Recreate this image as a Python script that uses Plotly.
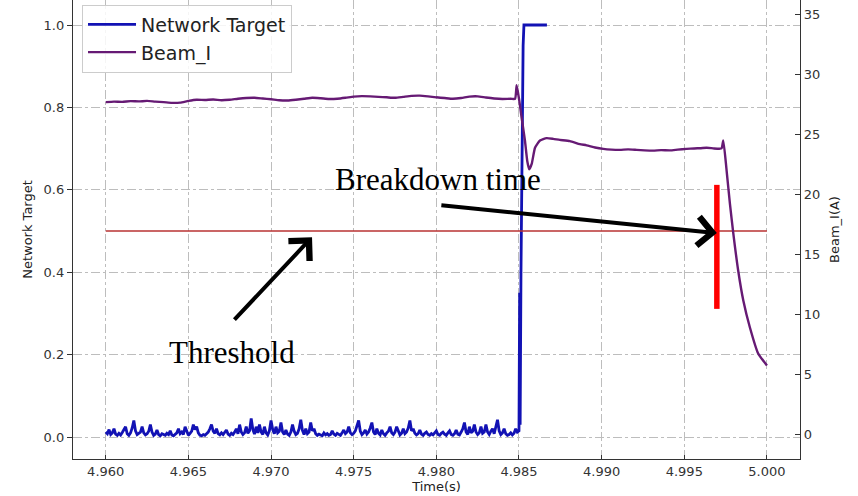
import plotly.graph_objects as go

# ---------------- data ----------------
# Network target output, sampled every 0.1 ms from 4.960 s to 4.985 s
target_start = 4.960
target_step = 0.0001
target_noise = [
    0.012, 0.008, 0.018, 0.006, 0.010, 0.020, 0.007, 0.004, 0.009, 0.005,
    0.011, 0.020, 0.025, 0.008, 0.004, 0.010, 0.022, 0.040, 0.015, 0.006,
    0.009, 0.012, 0.025, 0.010, 0.005, 0.008, 0.014, 0.030, 0.012, 0.004,
    0.007, 0.017, 0.006, 0.003, 0.008, 0.005, 0.004, 0.009, 0.006, 0.015,
    0.005, 0.003, 0.007, 0.010, 0.020, 0.008, 0.012, 0.006, 0.025, 0.012,
    0.004, 0.009, 0.014, 0.030, 0.018, 0.025, 0.010, 0.004, 0.003, 0.006,
    0.004, 0.008, 0.012, 0.020, 0.030, 0.014, 0.009, 0.020, 0.008, 0.005,
    0.010, 0.006, 0.012, 0.017, 0.007, 0.004, 0.009, 0.006, 0.012, 0.020,
    0.008, 0.030, 0.012, 0.006, 0.010, 0.025, 0.009, 0.015, 0.045, 0.018,
    0.007, 0.025, 0.010, 0.030, 0.012, 0.006, 0.025, 0.010, 0.005, 0.015,
    0.040, 0.018, 0.008, 0.025, 0.010, 0.014, 0.035, 0.012, 0.006, 0.017,
    0.007, 0.004, 0.012, 0.030, 0.014, 0.006, 0.009, 0.020, 0.042, 0.016,
    0.006, 0.020, 0.008, 0.012, 0.035, 0.015, 0.020, 0.008, 0.004, 0.007,
    0.005, 0.003, 0.010, 0.005, 0.008, 0.004, 0.006, 0.015, 0.007, 0.004,
    0.009, 0.006, 0.004, 0.010, 0.017, 0.008, 0.012, 0.025, 0.010, 0.006,
    0.009, 0.015, 0.028, 0.040, 0.014, 0.006, 0.010, 0.017, 0.007, 0.012,
    0.022, 0.035, 0.012, 0.006, 0.020, 0.009, 0.005, 0.017, 0.008, 0.004,
    0.010, 0.014, 0.025, 0.010, 0.006, 0.012, 0.025, 0.012, 0.005, 0.009,
    0.020, 0.008, 0.012, 0.022, 0.040, 0.015, 0.020, 0.009, 0.005, 0.008,
    0.017, 0.007, 0.004, 0.009, 0.012, 0.006, 0.004, 0.008, 0.005, 0.010,
    0.015, 0.006, 0.004, 0.009, 0.012, 0.007, 0.004, 0.010, 0.015, 0.006,
    0.004, 0.008, 0.017, 0.007, 0.005, 0.012, 0.020, 0.035, 0.012, 0.006,
    0.025, 0.010, 0.014, 0.030, 0.012, 0.006, 0.010, 0.025, 0.009, 0.012,
    0.030, 0.012, 0.006, 0.014, 0.020, 0.008, 0.022, 0.042, 0.015, 0.006,
    0.010, 0.020, 0.008, 0.004, 0.006, 0.010, 0.005, 0.009, 0.020, 0.012,
    0.015,
]
# Transition of the network target after 4.985 s
jump_t = [4.98504, 4.98507, 4.98512, 4.98525, 4.98530, 4.98669]
jump_v = [0.35, 0.03, 0.40, 0.95, 1.00, 1.00]

# Beam current (A)
beam_t = [
    4.9600, 4.9605, 4.9610, 4.9615, 4.9620, 4.9625, 4.9630, 4.9635, 4.9640, 4.9645,
    4.9650, 4.9655, 4.9660, 4.9665, 4.9670, 4.9675, 4.9680, 4.9685, 4.9690, 4.9695,
    4.9700, 4.9705, 4.9710, 4.9715, 4.9720, 4.9725, 4.9730, 4.9735, 4.9740, 4.9745,
    4.9750, 4.9755, 4.9760, 4.9765, 4.9770, 4.9775, 4.9780, 4.9785, 4.9790, 4.9795,
    4.9800, 4.9805, 4.9810, 4.9815, 4.9820, 4.9825, 4.9830, 4.9835, 4.9840, 4.9845,
    4.98476, 4.98486, 4.98502, 4.98516, 4.98536, 4.98550, 4.98562, 4.98577, 4.98597,
    4.98627, 4.98667, 4.98707, 4.98747, 4.98808, 4.98868, 4.98909, 4.98960, 4.99010,
    4.99060, 4.99110, 4.99160, 4.99212, 4.99260, 4.99312, 4.99360, 4.99413, 4.99460,
    4.99514, 4.99560, 4.99600, 4.99635, 4.99680, 4.99716, 4.99726, 4.99736, 4.99756,
    4.99776, 4.99796, 4.99826, 4.99857, 4.99897, 4.99947, 5.00000,
]
beam_i = [
    27.70, 27.74, 27.72, 27.78, 27.76, 27.80, 27.74, 27.70, 27.64, 27.66,
    27.80, 27.90, 27.88, 27.92, 27.86, 27.90, 27.98, 28.04, 28.06, 28.00,
    27.94, 27.86, 27.84, 27.90, 27.98, 28.06, 28.02, 27.96, 27.98, 28.06,
    28.16, 28.20, 28.18, 28.14, 28.10, 28.06, 28.14, 28.22, 28.24, 28.18,
    28.10, 28.04, 27.98, 28.04, 28.16, 28.18, 28.08, 28.00, 27.96, 27.98,
    27.97, 29.10, 27.80, 26.40, 24.50, 22.80, 22.10, 22.55, 23.90,
    24.50, 24.70, 24.64, 24.55, 24.45, 24.20, 24.10, 23.92, 23.80,
    23.74, 23.72, 23.76, 23.72, 23.68, 23.66, 23.70, 23.68, 23.74,
    23.80, 23.84, 23.86, 23.90, 23.84, 23.82, 23.86, 24.50, 22.00,
    19.25, 16.83, 13.67, 11.17, 8.92, 6.75, 5.75,
]

threshold = 0.5
threshold_span = [4.960, 5.000]
breakdown_t = 4.99697
breakdown_bar = [0.311, 0.612]

x_ticks = [4.960, 4.965, 4.970, 4.975, 4.980, 4.985, 4.990, 4.995, 5.000]
left_ticks = [0.0, 0.2, 0.4, 0.6, 0.8, 1.0]
right_ticks = [0, 5, 10, 15, 20, 25, 30, 35]

# ---------------- figure ----------------
target_t = [target_start + k * target_step for k in range(len(target_noise))] + jump_t
target_v = target_noise + jump_v

TARGET_COLOR = "#1212b4"
BEAM_COLOR = "#661a74"
FONT = "DejaVu Sans"

fig = go.Figure()
fig.add_trace(go.Scatter(
    x=target_t, y=target_v, mode="lines", name="Network Target",
    line=dict(color=TARGET_COLOR, width=2.8), yaxis="y",
))
fig.add_trace(go.Scatter(
    x=beam_t, y=beam_i, mode="lines", name="Beam_I",
    line=dict(color=BEAM_COLOR, width=2.4, shape="spline", smoothing=0.5), yaxis="y2",
))
fig.add_trace(go.Scatter(
    x=threshold_span, y=[threshold, threshold], mode="lines", showlegend=False,
    line=dict(color="#b83232", width=1.6), yaxis="y",
))
fig.add_trace(go.Scatter(
    x=[breakdown_t, breakdown_t], y=breakdown_bar, mode="lines", showlegend=False,
    line=dict(color="#ff0000", width=5.5), yaxis="y",
))

grid = dict(showgrid=True, gridcolor="#bdbdbd", gridwidth=1, griddash="dashdot")
fig.update_layout(
    width=858, height=496,
    margin=dict(l=73, r=58, t=0, b=37),
    paper_bgcolor="white", plot_bgcolor="white",
    font=dict(family=FONT, size=13, color="#333333"),
    xaxis=dict(
        range=[4.95802, 5.00200], tickvals=x_ticks,
        ticktext=[f"{v:.3f}" for v in x_ticks],
        showline=True, linecolor="#333333", linewidth=1.3, mirror=False,
        ticks="inside", ticklen=4, tickcolor="#333333",
        title=dict(text="Time(s)", standoff=1, font=dict(size=13, color="#222222")),
        zeroline=False, **grid,
    ),
    yaxis=dict(
        range=[-0.0534, 1.0607], tickvals=left_ticks,
        ticktext=[f"{v:.1f}" for v in left_ticks],
        showline=True, linecolor="#333333", linewidth=1.3,
        ticks="outside", ticklen=5, tickcolor="#333333",
        title=dict(text="Network Target", standoff=8, font=dict(size=13, color="#222222")),
        zeroline=False, **grid,
    ),
    yaxis2=dict(
        range=[-2.04, 36.21], tickvals=right_ticks,
        overlaying="y", side="right",
        showline=True, linecolor="#333333", linewidth=1.3,
        ticks="inside", ticklen=5, tickcolor="#333333",
        showgrid=False, zeroline=False,
        title=dict(text="Beam_I(A)", standoff=10, font=dict(size=13, color="#222222")),
    ),
    legend=dict(
        x=0.0124, y=0.99, xanchor="left", yanchor="top",
        bgcolor="rgba(255,255,255,0.85)", bordercolor="#cccccc", borderwidth=1,
        font=dict(family=FONT, size=19, color="#222222"),
        itemwidth=48, tracegroupgap=0,
    ),
    showlegend=True,
)

# Text labels and arrows
serif = dict(family="Liberation Serif", size=31, color="black")
fig.add_annotation(x=4.98010, y=0.626, xref="x", yref="y", text="Breakdown time",
                   showarrow=False, font=serif)
fig.add_annotation(x=4.96761, y=0.204, xref="x", yref="y", text="Threshold",
                   showarrow=False, font=serif)
fig.add_annotation(x=4.99697, y=0.495, xref="x", yref="y", text="",
                   showarrow=True, ax=-277, ay=-28, arrowhead=4, arrowsize=1.4,
                   arrowwidth=4, arrowcolor="black", standoff=0)
fig.add_annotation(x=4.97248, y=0.485, xref="x", yref="y", text="",
                   showarrow=True, ax=-79, ay=84, arrowhead=4, arrowsize=1.4,
                   arrowwidth=4, arrowcolor="black", standoff=0)

fig.write_html("out.html")
